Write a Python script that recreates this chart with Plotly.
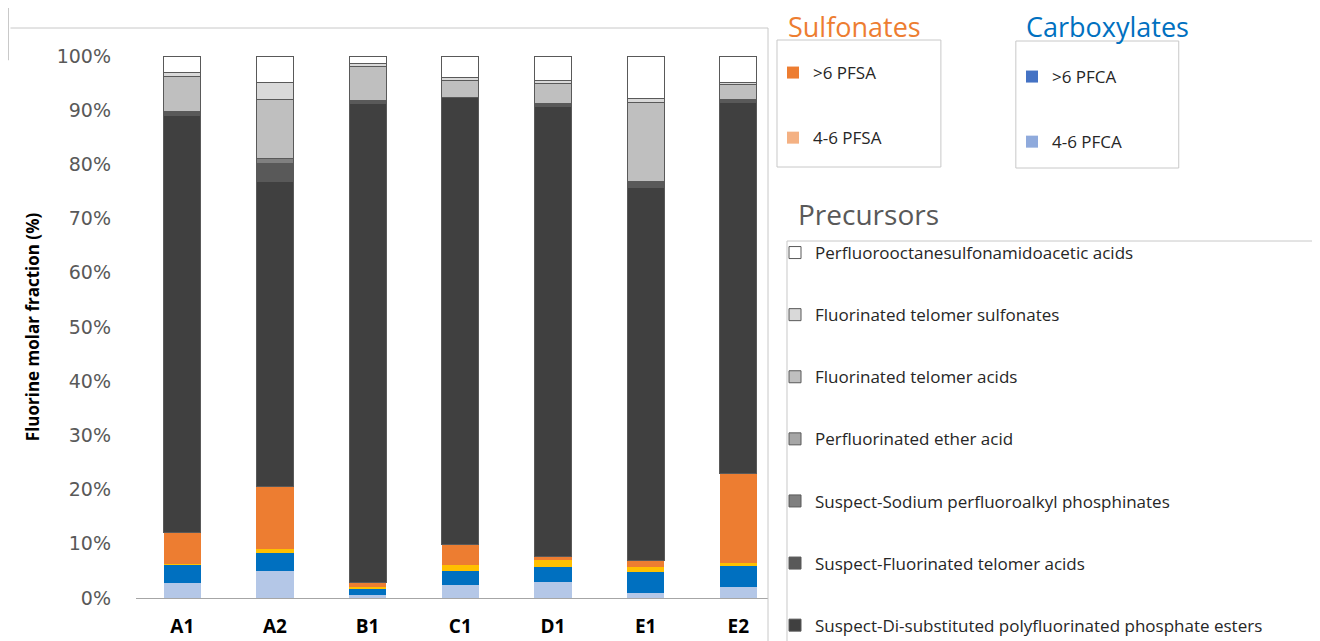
import plotly.graph_objects as go

# =========================================================
# Data
# =========================================================
samples = ["A1", "A2", "B1", "C1", "D1", "E1", "E2"]

# stacked bottom -> top, values in % of fluorine
pfca_4_6 = [2.8, 5.0, 0.6, 2.4, 3.0, 0.9, 2.0]
pfca_gt6 = [3.3, 3.3, 1.2, 2.6, 2.7, 3.9, 3.9]
pfsa_4_6 = [0.2, 0.7, 0.2, 1.1, 1.3, 0.9, 0.6]
pfsa_gt6 = [5.7, 11.5, 0.8, 3.7, 0.6, 1.3, 16.4]
s_dipap = [77.0, 56.3, 88.5, 82.6, 83.0, 68.8, 68.6]
s_fta = [0.7, 3.3, 0.4, 0.0, 0.7, 1.0, 0.4]
s_phosphinates = [0.0, 0.9, 0.0, 0.0, 0.0, 0.0, 0.0]
ether_acid = [0.0, 0.0, 0.0, 0.0, 0.0, 0.0, 0.0]
fta = [6.6, 10.9, 6.3, 3.0, 3.7, 14.7, 2.9]
fts = [0.7, 3.3, 0.7, 0.7, 0.4, 0.6, 0.4]
fosaa = [3.0, 4.8, 1.3, 3.9, 4.6, 7.9, 4.8]

y_ticks = [0, 10, 20, 30, 40, 50, 60, 70, 80, 90, 100]
y_tick_labels = [f"{t}%" for t in y_ticks]

# =========================================================
# Layout helpers (screen pixel -> paper); page body has an 8px margin
# =========================================================
OFF = 8
W, H = 1320 - OFF, 641 - OFF
PX0, PX1, PY0, PY1 = 135.6, 768, 56, 598


def px(x):
    return (x - PX0) / (PX1 - PX0)


def py(y):
    return (PY1 - y) / (PY1 - PY0)


fig = go.Figure()

# ---- perfluoroalkyl acids (legend drawn separately) ----
acid_series = [
    (pfca_4_6, "#B4C7E7"),
    (pfca_gt6, "#0070C0"),
    (pfsa_4_6, "#FFC000"),
    (pfsa_gt6, "#ED7D31"),
]
for vals, color in acid_series:
    fig.add_trace(go.Bar(
        x=samples, y=vals, marker=dict(color=color, line=dict(width=0)),
        showlegend=False,
    ))

# ---- precursors ----
precursor_series = [
    (s_dipap, "Suspect-Di-substituted polyfluorinated phosphate esters", "#404040"),
    (s_fta, "Suspect-Fluorinated telomer acids", "#595959"),
    (s_phosphinates, "Suspect-Sodium perfluoroalkyl phosphinates", "#808080"),
    (ether_acid, "Perfluorinated ether acid", "#A6A6A6"),
    (fta, "Fluorinated telomer acids", "#BFBFBF"),
    (fts, "Fluorinated telomer sulfonates", "#D9D9D9"),
    (fosaa, "Perfluorooctanesulfonamidoacetic acids", "#FFFFFF"),
]
n_prec = len(precursor_series)
for i, (vals, name, color) in enumerate(precursor_series):
    fig.add_trace(go.Bar(
        x=samples, y=vals, name=name, legend="legend3", legendgroup=name,
        legendrank=n_prec - i,
        marker=dict(color=color, line=dict(color="#595959", width=1)),
    ))

# ---- legend-only entries for the acid boxes ----
legend_entries = [
    (">6 PFSA", "#ED7D31", "legend"),
    ("4-6 PFSA", "#F4B183", "legend"),
    (">6 PFCA", "#4472C4", "legend2"),
    ("4-6 PFCA", "#8FAADC", "legend2"),
]
for i, (name, color, leg) in enumerate(legend_entries):
    fig.add_trace(go.Bar(
        x=[None], y=[None], name=name, legend=leg, legendgroup=name,
        legendrank=i + 1,
        marker=dict(color=color, line=dict(width=0)),
    ))

# =========================================================
# Frames / boxes
# =========================================================
line_col = "#C8C8C8"
shapes = [
    dict(type="line", x0=px(10), x1=px(768), y0=py(28), y1=py(28)),
    dict(type="line", x0=px(768), x1=px(768), y0=py(28), y1=py(641)),
    dict(type="line", x0=px(8), x1=px(8), y0=py(0), y1=py(60)),
    dict(type="line", x0=px(0), x1=px(8), y0=py(60), y1=py(60)),
    dict(type="rect", x0=px(777), x1=px(941), y0=py(40), y1=py(167)),
    dict(type="rect", x0=px(1016), x1=px(1179), y0=py(41), y1=py(168)),
    dict(type="line", x0=px(787), x1=px(1320), y0=py(241), y1=py(241)),
    dict(type="line", x0=px(787), x1=px(787), y0=py(241), y1=py(641)),
]
for s in shapes:
    s.update(xref="paper", yref="paper", line=dict(color=line_col, width=1), layer="above")
fig.update_layout(shapes=shapes)

titles = [
    ("Sulfonates", 786, 27, 27, "#ED7D31"),
    ("Carboxylates", 1024, 27, 27, "#0070C0"),
    ("Precursors", 796, 214, 28, "#595959"),
]
for text, x, y, size, color in titles:
    fig.add_annotation(
        text=text, x=px(x), y=py(y), xref="paper", yref="paper",
        xanchor="left", yanchor="middle", showarrow=False,
        font=dict(family="Open Sans", size=size, color=color),
    )

legend_common = dict(
    xref="container", yref="container", xanchor="left", yanchor="top",
    bgcolor="rgba(0,0,0,0)", borderwidth=0, maxheight=1000,
    font=dict(family="Open Sans", size=17, color="#262626"),
)


def lx(x):
    return (x - OFF) / W


def ly(y):
    return 1 - (y - OFF) / H


fig.update_layout(
    template="plotly_white",
    width=W,
    height=H,
    barmode="stack",
    bargap=0.6,
    margin=dict(l=PX0 - OFF, r=W - (PX1 - OFF), t=PY0 - OFF, b=H - (PY1 - OFF),
                autoexpand=False),
    paper_bgcolor="white",
    plot_bgcolor="white",
    xaxis=dict(
        range=[-0.5, 6.32],
        showgrid=False,
        showline=True,
        linecolor="#A6A6A6",
        linewidth=1,
        ticks="",
        ticklabelstandoff=11,
        tickfont=dict(family="Open Sans", size=19, color="black", weight="bold"),
    ),
    yaxis=dict(
        range=[0, 100],
        showgrid=False,
        zeroline=False,
        showline=False,
        ticks="",
        tickvals=y_ticks,
        ticktext=y_tick_labels,
        ticklabelstandoff=24,
        tickfont=dict(family="DejaVu Sans", size=19, color="#595959"),
        title=dict(
            text="Fluorine molar fraction (%)",
            font=dict(family="Open Sans", size=17, color="black", weight="bold"),
            standoff=12,
        ),
    ),
    legend=dict(x=lx(773), y=ly(55), tracegroupgap=40, traceorder="grouped",
                **legend_common),
    legend2=dict(x=lx(1012), y=ly(59), tracegroupgap=40, traceorder="grouped",
                 **legend_common),
    legend3=dict(x=lx(775), y=ly(235), tracegroupgap=37, traceorder="grouped",
                 **legend_common),
)

fig.write_html("out.html")
